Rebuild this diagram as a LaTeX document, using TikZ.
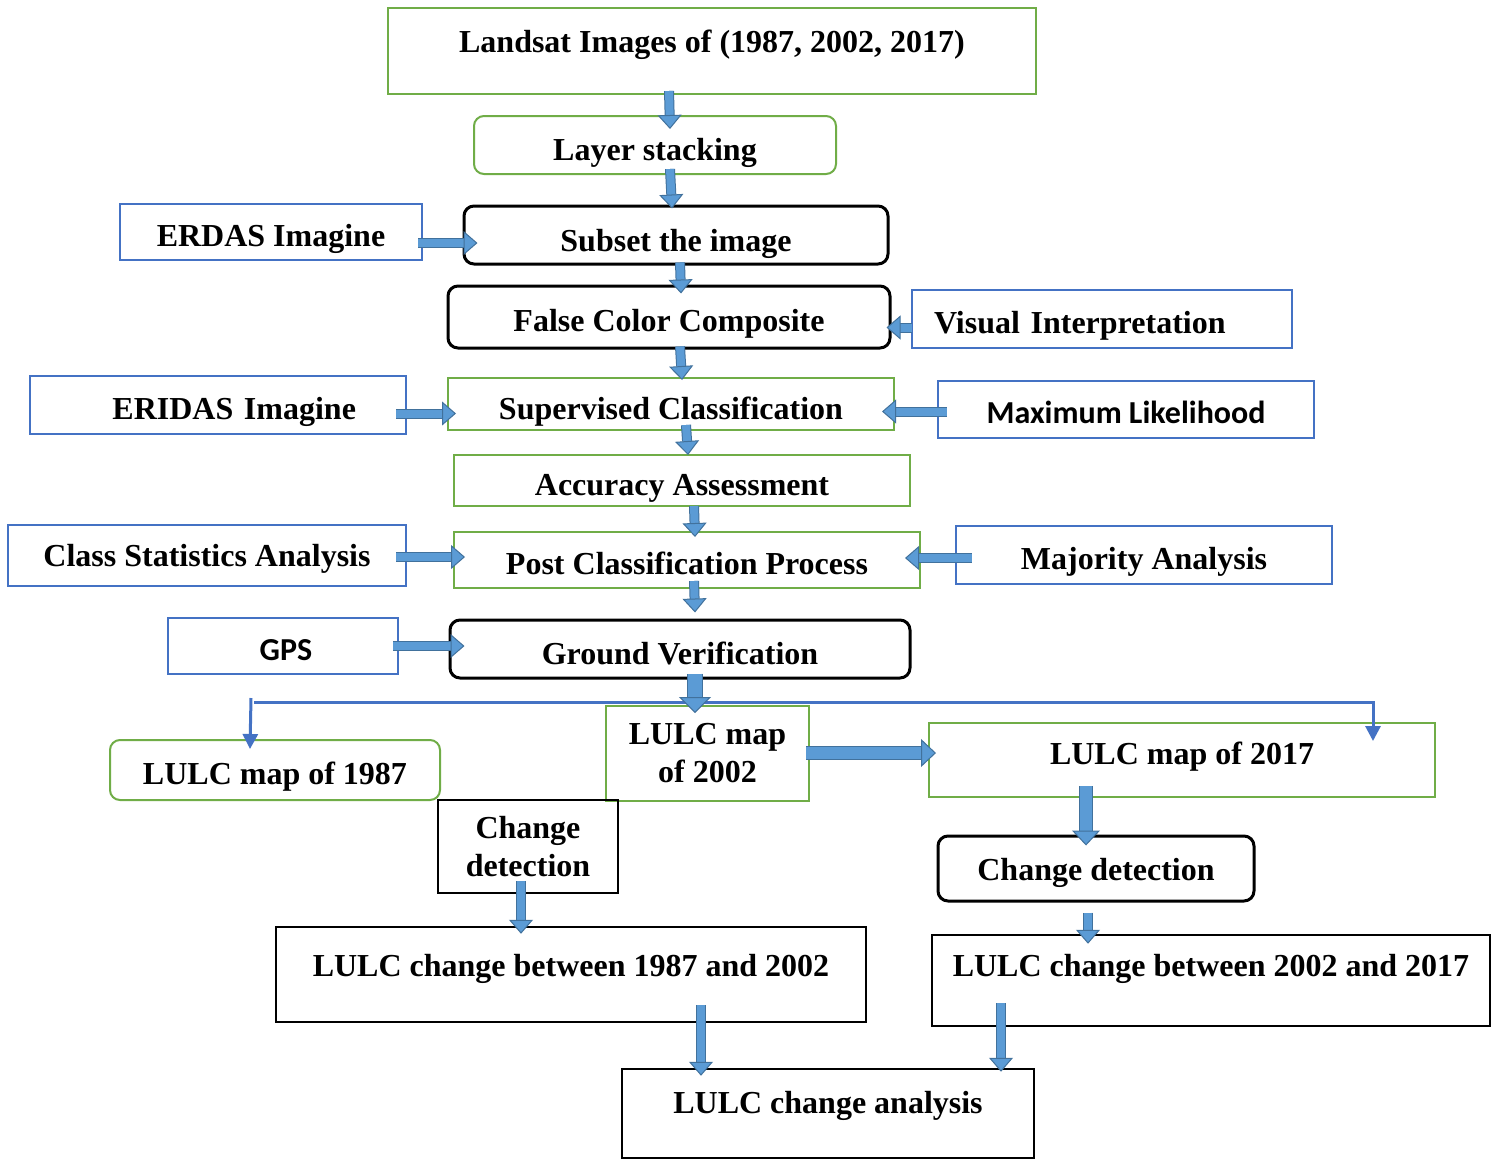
\documentclass[tikz,border=0pt]{standalone}
\usepackage{fontspec}
\setmainfont{Liberation Serif}
\newfontfamily\calibfont{Carlito}
\usetikzlibrary{arrows.meta}
\definecolor{boxgreen}{HTML}{70AD47}
\definecolor{boxblue}{HTML}{4472C4}
\definecolor{arrfill}{HTML}{5B9BD5}
\definecolor{arredge}{HTML}{41719C}

\begin{document}
\begin{tikzpicture}[x=1pt, y=-1pt,
  box/.style={font=\fontsize{32}{38}\selectfont\bfseries, inner xsep=4pt, inner ysep=0pt,
    align=center, text height=35pt, text depth=7pt},
  sansfont/.style={font=\fontsize{32}{38}\selectfont\calibfont\bfseries},
  sz/.style 2 args={minimum width=#1pt, minimum height=#2pt},
  gbox/.style={box, draw=boxgreen, line width=2pt},
  bbox/.style={box, draw=boxblue, line width=2.5pt},
  kbox/.style={box, draw=black, line width=2.5pt},
  rnd/.style={rounded corners=10pt, line width=3pt},
  blk/.style={draw=arredge, line width=1pt, double=arrfill, double distance=8pt,
    -{Triangle[width=24pt, length=14pt, line width=1pt, fill=arrfill]}},
  medblk/.style={blk, double distance=12pt,
    -{Triangle[width=28pt, length=15pt, line width=1pt, fill=arrfill]}},
  bigblk/.style={blk, double distance=14pt,
    -{Triangle[width=32pt, length=16pt, line width=1pt, fill=arrfill]}},
  thinarr/.style={draw=boxblue, line width=3pt, -{Triangle[width=15pt, length=15pt]}}]

\fill[white] (0,0) rectangle (1499,1156);

\node[gbox, sz={648}{86}, text depth=32pt] (landsat) at (712,51) {Landsat Images of (1987, 2002, 2017)};
\node[gbox, rnd, line width=2pt, sz={362}{58}, text height=38pt] (layer) at (655,145) {Layer stacking};
\node[bbox, sz={302}{56}] (erdas) at (271,232) {ERDAS Imagine};
\node[kbox, rnd, sz={424}{58}, text height=39pt] (subset) at (676,235) {Subset the image};
\node[kbox, rnd, sz={442}{62}] (fcc) at (669,317) {False Color Composite};
\node[bbox, sz={380}{58}, text width=336pt, align=left] (visual) at (1102,319) {Visual Interpretation};
\node[bbox, sz={376}{58}, text width=276pt, align=right] (eridas) at (218,405) {ERIDAS Imagine};
\node[gbox, sz={446}{52}, text height=38pt] (superv) at (671,404) {Supervised Classification};
\node[bbox, sansfont, sz={376}{57}] (maxlik) at (1126,409.5) {Maximum Likelihood};
\node[gbox, sz={456}{51}, text height=36pt] (accur) at (682,480.5) {Accuracy Assessment};
\node[bbox, sz={398}{61}, text height=29pt] (clsstat) at (207,555.5) {Class Statistics Analysis};
\node[gbox, sz={466}{56}] (postcls) at (687,560) {Post Classification Process};
\node[bbox, sz={376}{58}] (majority) at (1144,555) {Majority Analysis};
\node[bbox, sansfont, sz={230}{56}, text width=200pt, align=center, text height=36pt] (gps) at (283,646) {\hspace*{6pt}GPS};
\node[kbox, rnd, sz={460}{58}, text height=38pt] (ground) at (680,649) {Ground Verification};
\node[gbox, rnd, line width=2pt, sz={330}{60}, text height=36pt] (map87) at (275,770) {LULC map of 1987};
\node[gbox, sz={203}{95}, text height={}, text depth={}] (map02) at (707.5,753.5) {LULC map\\of 2002};
\node[gbox, sz={506}{74}, text depth=26pt] (map17) at (1182,760) {LULC map of 2017};
\node[kbox, sz={180}{93}, text height={}, text depth={}] (chdetL) at (528,846.5) {Change\\detection};
\node[kbox, rnd, sz={316}{65}, text height=30pt] (chdetR) at (1096,868.5) {Change detection};
\node[kbox, sz={590}{95}, text depth=31pt] (ch8702) at (571,974.5) {LULC change between 1987 and 2002};
\node[kbox, sz={558}{91}, text depth=43pt] (ch0217) at (1211,980.5) {LULC change between 2002 and 2017};
\node[kbox, sz={412}{89}, text depth=35pt] (analysis) at (828,1113.5) {LULC change analysis};

\coordinate (splitL) at (254,702);
\coordinate (splitR) at (1373,702);
\draw[thinarr] (splitL) -- (splitR) -- ([xshift=191pt,yshift=-19pt]map17.north);
\draw[thinarr] ([xshift=-3pt,yshift=4pt]splitL) -- ([xshift=-25pt,yshift=-10pt]map87.north);

\draw[blk] ([xshift=-43pt,yshift=4pt]landsat.south) -- ([xshift=15pt,yshift=-14pt]layer.north);
\draw[blk] ([xshift=15pt,yshift=6pt]layer.south) -- ([xshift=-4pt,yshift=-4pt]subset.north);
\draw[blk] ([xshift=-5pt,yshift=-11pt]erdas.east) -- ([xshift=15pt,yshift=-8pt]subset.west);
\draw[blk] ([xshift=4pt,yshift=3pt]subset.south) -- ([xshift=12pt,yshift=-9pt]fcc.north);
\draw[blk] ([xshift=1pt,yshift=-8.5pt]visual.west) -- ([xshift=-5pt,yshift=-10.5pt]fcc.east);
\draw[blk] ([xshift=11pt,yshift=3pt]fcc.south) -- ([xshift=11pt,yshift=-3pt]superv.north);
\draw[blk] ([xshift=-11pt,yshift=-8.5pt]eridas.east) -- ([xshift=9pt,yshift=-9.5pt]superv.west);
\draw[blk] ([xshift=10pt,yshift=-2pt]maxlik.west) -- ([xshift=-13pt,yshift=-7.5pt]superv.east);
\draw[blk] ([xshift=15pt,yshift=6pt]superv.south) -- ([xshift=6pt,yshift=-1pt]accur.north);
\draw[blk] ([xshift=12pt,yshift=1pt]accur.south) -- ([xshift=8pt,yshift=-6pt]postcls.north);
\draw[blk] ([xshift=-11pt,yshift=-1.5pt]clsstat.east) -- ([xshift=12pt,yshift=3pt]postcls.west);
\draw[blk] ([xshift=17pt,yshift=-3pt]majority.west) -- ([xshift=-16pt,yshift=2pt]postcls.east);
\draw[blk] ([xshift=7pt,yshift=8pt]postcls.south) -- ([xshift=15pt,yshift=6pt]ground.north);
\draw[blk] ([xshift=-6pt]gps.east) -- ([xshift=16pt,yshift=3pt]ground.west);
\draw[bigblk] ([xshift=15pt,yshift=6pt]ground.south) -- ([xshift=-12.5pt,yshift=-8pt]map02.north);
\draw[medblk] ([xshift=-4pt,yshift=0.5pt]map02.east) -- ([xshift=8pt,yshift=7pt]map17.west);
\draw[medblk] ([xshift=-96pt,yshift=12pt]map17.south) -- ([xshift=-10pt,yshift=-11pt]chdetR.north);
\draw[blk] ([xshift=-8pt,yshift=-10pt]chdetR.south) -- ([xshift=-123pt,yshift=-10pt]ch0217.north);
\draw[blk] ([xshift=-7pt,yshift=13pt]chdetL.south) -- ([xshift=-50pt,yshift=-8pt]ch8702.north);
\draw[blk] ([xshift=130pt,yshift=18pt]ch8702.south) -- ([xshift=-127pt,yshift=-8pt]analysis.north);
\draw[blk] ([xshift=-210pt,yshift=24pt]ch0217.south) -- ([xshift=173pt,yshift=-4pt]analysis.north);

\end{tikzpicture}
\end{document}
